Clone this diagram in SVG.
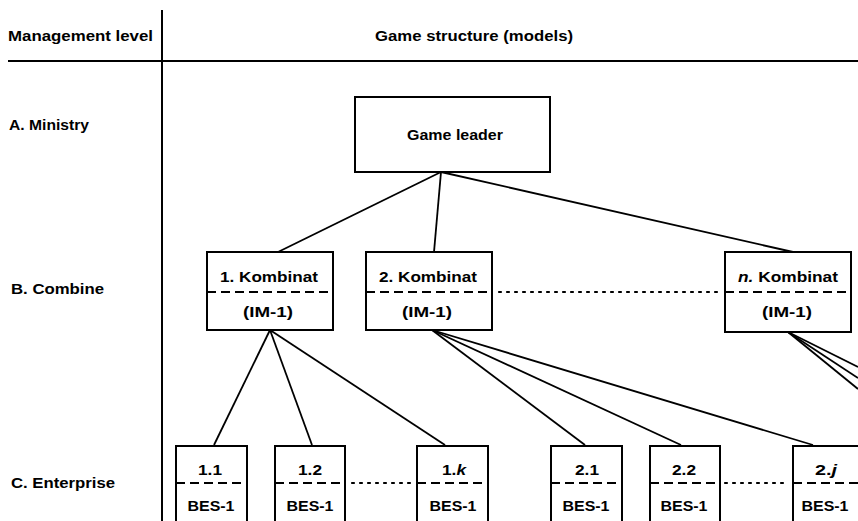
<svg xmlns="http://www.w3.org/2000/svg" width="858" height="521" viewBox="0 0 858 521">
  <style>
    text { font-family: "Liberation Sans", Arial, sans-serif; font-weight: bold; fill: #000; }
    .lbl { font-size: 15px; }
    .nt { font-size: 15px; text-anchor: middle; }
    .box { fill: #fff; stroke: #000; stroke-width: 2; }
    .split { stroke: #000; stroke-width: 2; stroke-dasharray: 9 5; fill: none; }
    .conn { stroke: #000; stroke-width: 1.8; fill: none; }
    .dots { stroke: #000; stroke-width: 2.2; stroke-dasharray: 2 6; stroke-linecap: round; fill: none; }
    .rule { stroke: #000; stroke-width: 2; fill: none; }
  </style>
  <rect width="858" height="521" fill="#fff"/>

  <!-- table frame -->
  <g id="frame">
    <line class="rule" x1="162" y1="10" x2="162" y2="521"/>
    <line class="rule" x1="8" y1="61" x2="858" y2="61"/>
    <text class="lbl" x="8" y="41" textLength="145" lengthAdjust="spacingAndGlyphs">Management level</text>
    <text class="lbl" x="375" y="41" textLength="198" lengthAdjust="spacingAndGlyphs">Game structure (models)</text>
    <text class="lbl" x="9" y="130" textLength="80" lengthAdjust="spacingAndGlyphs">A. Ministry</text>
    <text class="lbl" x="11" y="294" textLength="93" lengthAdjust="spacingAndGlyphs">B. Combine</text>
    <text class="lbl" x="11" y="488" textLength="104" lengthAdjust="spacingAndGlyphs">C. Enterprise</text>
  </g>

  <!-- connectors -->
  <g id="connectors">
    <line class="conn" x1="441" y1="172" x2="278" y2="252"/>
    <line class="conn" x1="441" y1="172" x2="434" y2="252" stroke-width="1.2"/>
    <line class="conn" x1="441" y1="172" x2="793" y2="252"/>
    <line class="conn" x1="270" y1="330" x2="214" y2="445"/>
    <line class="conn" x1="270" y1="330" x2="312" y2="445"/>
    <line class="conn" x1="270" y1="330" x2="445" y2="445"/>
    <line class="conn" x1="432" y1="330" x2="585" y2="445"/>
    <line class="conn" x1="432" y1="330" x2="681" y2="445"/>
    <line class="conn" x1="432" y1="330" x2="813" y2="445"/>
    <line class="conn" x1="788" y1="332" x2="858" y2="367"/>
    <line class="conn" x1="788" y1="332" x2="858" y2="378"/>
    <line class="conn" x1="788" y1="332" x2="858" y2="389"/>
    <line class="dots" x1="499" y1="292" x2="720" y2="292"/>
    <line class="dots" x1="352" y1="483" x2="412" y2="483"/>
    <line class="dots" x1="725" y1="483" x2="788" y2="483"/>
  </g>

  <g id="game-leader">
    <rect class="box" x="355" y="97" width="195" height="75"/>
    <text class="nt" x="455" y="140" textLength="96" lengthAdjust="spacingAndGlyphs">Game leader</text>
  </g>

  <g id="kombinat-1">
    <rect class="box" x="207" y="252" width="126" height="78"/>
    <line class="split" x1="207" y1="292" x2="333" y2="292"/>
    <text class="nt" x="269" y="282" textLength="98" lengthAdjust="spacingAndGlyphs">1. Kombinat</text>
    <text class="nt" x="268" y="317" textLength="50" lengthAdjust="spacingAndGlyphs">(IM-1)</text>
  </g>
  <g id="kombinat-2">
    <rect class="box" x="366" y="252" width="126" height="78"/>
    <line class="split" x1="366" y1="292" x2="492" y2="292"/>
    <text class="nt" x="428" y="282" textLength="98" lengthAdjust="spacingAndGlyphs">2. Kombinat</text>
    <text class="nt" x="427" y="317" textLength="50" lengthAdjust="spacingAndGlyphs">(IM-1)</text>
  </g>
  <g id="kombinat-n">
    <rect class="box" x="725" y="252" width="126" height="80"/>
    <line class="split" x1="725" y1="292" x2="851" y2="292"/>
    <text class="nt" x="788" y="282" textLength="100" lengthAdjust="spacingAndGlyphs"><tspan font-style="italic">n.</tspan> Kombinat</text>
    <text class="nt" x="787" y="317" textLength="50" lengthAdjust="spacingAndGlyphs">(IM-1)</text>
  </g>

  <g id="enterprise-1-1">
    <rect class="box" x="176" y="446" width="71" height="85"/>
    <line class="split" x1="176" y1="483" x2="247" y2="483"/>
    <text class="nt" x="210" y="475" textLength="24" lengthAdjust="spacingAndGlyphs">1.1</text>
    <text class="nt" x="211" y="511" textLength="47" lengthAdjust="spacingAndGlyphs">BES-1</text>
  </g>
  <g id="enterprise-1-2">
    <rect class="box" x="275" y="446" width="70" height="85"/>
    <line class="split" x1="275" y1="483" x2="345" y2="483"/>
    <text class="nt" x="310" y="475" textLength="24" lengthAdjust="spacingAndGlyphs">1.2</text>
    <text class="nt" x="310" y="511" textLength="47" lengthAdjust="spacingAndGlyphs">BES-1</text>
  </g>
  <g id="enterprise-1-k">
    <rect class="box" x="417" y="446" width="71" height="85"/>
    <line class="split" x1="417" y1="483" x2="488" y2="483"/>
    <text class="nt" x="454" y="475" textLength="24" lengthAdjust="spacingAndGlyphs">1.<tspan font-style="italic">k</tspan></text>
    <text class="nt" x="453" y="511" textLength="47" lengthAdjust="spacingAndGlyphs">BES-1</text>
  </g>
  <g id="enterprise-2-1">
    <rect class="box" x="551" y="446" width="71" height="85"/>
    <line class="split" x1="551" y1="483" x2="622" y2="483"/>
    <text class="nt" x="587" y="475" textLength="24" lengthAdjust="spacingAndGlyphs">2.1</text>
    <text class="nt" x="586" y="511" textLength="47" lengthAdjust="spacingAndGlyphs">BES-1</text>
  </g>
  <g id="enterprise-2-2">
    <rect class="box" x="650" y="446" width="70" height="85"/>
    <line class="split" x1="650" y1="483" x2="720" y2="483"/>
    <text class="nt" x="684" y="475" textLength="24" lengthAdjust="spacingAndGlyphs">2.2</text>
    <text class="nt" x="684" y="511" textLength="47" lengthAdjust="spacingAndGlyphs">BES-1</text>
  </g>
  <g id="enterprise-2-j">
    <rect class="box" x="793" y="446" width="71" height="85"/>
    <line class="split" x1="793" y1="483" x2="864" y2="483"/>
    <text class="nt" x="826" y="475" textLength="22" lengthAdjust="spacingAndGlyphs">2.<tspan font-style="italic">j</tspan></text>
    <text class="nt" x="825" y="511" textLength="47" lengthAdjust="spacingAndGlyphs">BES-1</text>
  </g>
</svg>
